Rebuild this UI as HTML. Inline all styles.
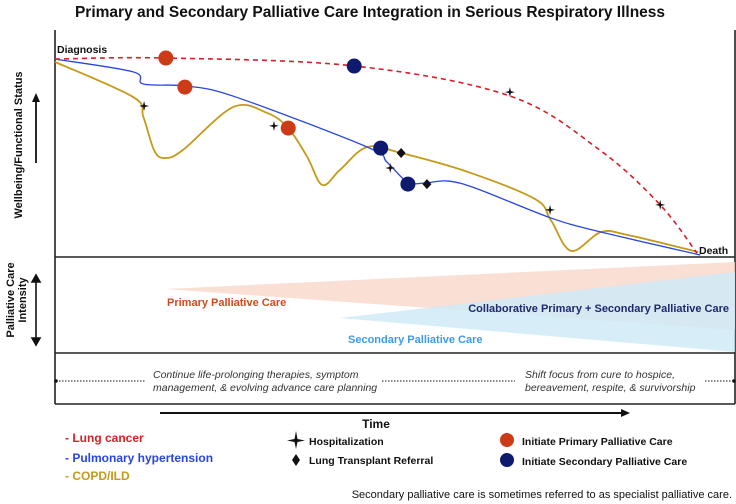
<!DOCTYPE html>
<html><head><meta charset="utf-8"><style>
body{margin:0;background:#fff;}
svg{display:block;font-family:"Liberation Sans",Arial,sans-serif;}
</style></head><body>
<svg id="chart" width="736" height="504" viewBox="0 0 736 504">
<text x="370" y="17" text-anchor="middle" font-size="15.5" font-weight="bold" fill="#111">Primary and Secondary Palliative Care Integration in Serious Respiratory Illness</text>
<g stroke="#222" stroke-width="1.6" fill="none">
<line x1="55" y1="30" x2="55" y2="404"/><line x1="735" y1="30" x2="735" y2="404"/>
<line x1="55" y1="257" x2="735" y2="257"/><line x1="55" y1="353" x2="735" y2="353"/><line x1="55" y1="404" x2="735" y2="404"/>
</g>
<g>
<polygon points="165,289 735,262 735,330" fill="#f9d9cc" opacity="0.85"/>
<polygon points="340,318 735,272 735,352" fill="#cdeaf7" opacity="0.8"/>
</g>
<text x="167" y="306" font-size="11" font-weight="bold" fill="#d04a22">Primary Palliative Care</text>
<text x="729" y="312" text-anchor="end" font-size="11" font-weight="bold" fill="#1d2a6e">Collaborative Primary + Secondary Palliative Care</text>
<text x="348" y="343" font-size="11" font-weight="bold" fill="#3d9be9">Secondary Palliative Care</text>
<text transform="translate(4,300) rotate(-90)" text-anchor="middle" font-size="11" font-weight="bold" fill="#111"><tspan x="0" y="10">Palliative Care</tspan><tspan x="0" y="22">Intensity</tspan></text>
<g stroke="#111" stroke-width="1.6"><line x1="36" y1="280" x2="36" y2="340"/><polygon points="32,282 36,275 40,282" fill="#111"/><polygon points="32,338 36,345 40,338" fill="#111"/></g>
<text transform="translate(22,145) rotate(-90)" text-anchor="middle" font-size="11" font-weight="bold" fill="#111">Wellbeing/Functional Status</text>
<g><line x1="36" y1="163" x2="36" y2="100" stroke="#111" stroke-width="1.8"/><polygon points="32,102 36,93 40,102" fill="#111"/></g>
<g stroke="#444" stroke-width="1.2" stroke-dasharray="1.5,1.5">
<line x1="56" y1="381" x2="145" y2="381"/><line x1="382" y1="381" x2="515" y2="381"/><line x1="705" y1="381" x2="734" y2="381"/></g>
<circle cx="56" cy="381" r="1.8" fill="#111"/><circle cx="734" cy="381" r="1.8" fill="#111"/>
<text font-size="10.5" font-style="italic" fill="#333"><tspan x="153" y="378">Continue life-prolonging therapies, symptom</tspan><tspan x="153" y="391">management, &amp; evolving advance care planning</tspan></text>
<text font-size="10.5" font-style="italic" fill="#333"><tspan x="525" y="378">Shift focus from cure to hospice,</tspan><tspan x="525" y="391">bereavement, respite, &amp; survivorship</tspan></text>
<g><line x1="160" y1="413" x2="623" y2="413" stroke="#111" stroke-width="2"/><polygon points="621,409 630,413 621,417" fill="#111"/></g>
<text x="376" y="428" text-anchor="middle" font-size="12" font-weight="bold" fill="#111">Time</text>
<text x="57" y="53" font-size="10.5" font-weight="bold" fill="#111">Diagnosis</text>
<text x="699" y="254" font-size="10.5" font-weight="bold" fill="#111">Death</text>
<g id="series"></g>
<g>
<text x="65" y="442" font-size="12" font-weight="bold" fill="#d3202a">- Lung cancer</text>
<text x="65" y="462" font-size="12" font-weight="bold" fill="#2846e0">- Pulmonary hypertension</text>
<text x="65" y="480" font-size="12" font-weight="bold" fill="#c49a18">- COPD/ILD</text>
<path d="M296,431 L297.5,439 L305,440.5 L297.5,442 L296,449 L294.5,442 L287,440.5 L294.5,439 Z" fill="#111"/>
<text x="309" y="445" font-size="10.5" font-weight="bold" fill="#111">Hospitalization</text>
<polygon points="296,454 300,460 296,466 292,460" fill="#111"/>
<text x="309" y="464" font-size="10.5" font-weight="bold" fill="#111">Lung Transplant Referral</text>
<circle cx="507" cy="440" r="7" fill="#cc3b16"/>
<text x="522" y="445" font-size="10.5" font-weight="bold" fill="#111">Initiate Primary Palliative Care</text>
<circle cx="507" cy="460" r="7" fill="#0d1a6e"/>
<text x="522" y="465" font-size="10.5" font-weight="bold" fill="#111">Initiate Secondary Palliative Care</text>
</g>
<text x="732" y="498" text-anchor="end" font-size="11" fill="#111">Secondary palliative care is sometimes referred to as specialist palliative care.</text>
</svg>
<script>
const lungT=[0,16.3,44.1,66.9,80.1,89,94.4];
const lungV=[91.2,91.7,88,74.2,49.3,24,1.8];
const phT=[0,11.5,13,19.3,26.6,45.9,48.8,51.8,54.4,57.8,62.2,72.9,80.3,94.9];
const phV=[91.2,85.3,79.7,78.8,73.7,50.7,43.8,34.6,34.1,35,31.3,18.0,11.5,0.9];
const copdT=[0,11.5,13,14.6,16.2,18.8,26.2,31.2,34.3,37.1,39.3,41.9,45.9,50.9,60.7,70.6,72.9,75.9,80.3,84.3,94.6];
const copdV=[89.9,73.7,64.5,49,45.6,49.3,69.1,66.4,59.4,46.1,33.2,40.1,50.7,47.9,39.2,26.7,17.1,2.8,11.5,10.1,2.3];
const hospT=[13.1,32.2,49.3,72.8,66.9,89];
const hospV=[69.6,60.4,41.0,21.7,76.0,24];
const transT=[50.9,54.7];
const transV=[47.9,33.6];
const primT=[16.3,19.1,34.3];
const primV=[91.7,78.3,59.4];
const secT=[44,47.9,51.9];
const secV=[88,50.2,33.6];
const xS=t=>55+t*6.8, yS=v=>257-v*2.17;
const NS="http://www.w3.org/2000/svg", g=document.getElementById('series');
function smooth(T,V){const p=T.map((t,i)=>[xS(t),yS(V[i])]);let d=`M${p[0][0]},${p[0][1]}`;
for(let i=0;i<p.length-1;i++){const a=p[i-1]||p[i],b=p[i],c=p[i+1],e=p[i+2]||c;
d+=` C${b[0]+(c[0]-a[0])/6},${b[1]+(c[1]-a[1])/6} ${c[0]-(e[0]-b[0])/6},${c[1]-(e[1]-b[1])/6} ${c[0]},${c[1]}`;}return d;}
function line(T,V,col,w,dash,name){const p=document.createElementNS(NS,'path');p.setAttribute('d',smooth(T,V));p.setAttribute('fill','none');p.setAttribute('stroke',col);p.setAttribute('stroke-width',w);if(dash)p.setAttribute('stroke-dasharray',dash);


g.appendChild(p);}
line(copdT,copdV,'#c49a18',1.8,null,'copd-ild-line');
line(phT,phV,'#2846e0',1.3,null,'pulmonary-hypertension-line');
line(lungT,lungV,'#d3202a',1.6,'5,4','lung-cancer-line');
hospT.forEach((t,i)=>{const x=xS(t),y=yS(hospV[i]);const p=document.createElementNS(NS,'path');
p.setAttribute('d',`M${x},${y-5} L${x+1},${y-1} L${x+5},${y} L${x+1},${y+1} L${x},${y+5} L${x-1},${y+1} L${x-5},${y} L${x-1},${y-1} Z`);p.setAttribute('fill','#111');


g.appendChild(p);});
transT.forEach((t,i)=>{const x=xS(t),y=yS(transV[i]);const p=document.createElementNS(NS,'polygon');
p.setAttribute('points',`${x},${y-5} ${x+4.5},${y} ${x},${y+5} ${x-4.5},${y}`);p.setAttribute('fill','#111');


g.appendChild(p);});
function dots(T,V,col,name){T.forEach((t,i)=>{const c=document.createElementNS(NS,'circle');c.setAttribute('cx',xS(t));c.setAttribute('cy',yS(V[i]));c.setAttribute('r',7.5);c.setAttribute('fill',col);


g.appendChild(c);});}
dots(primT,primV,'#cc3b16','primary-care-marker');
dots(secT,secV,'#0d1a6e','secondary-care-marker');
</script>
</body></html>
